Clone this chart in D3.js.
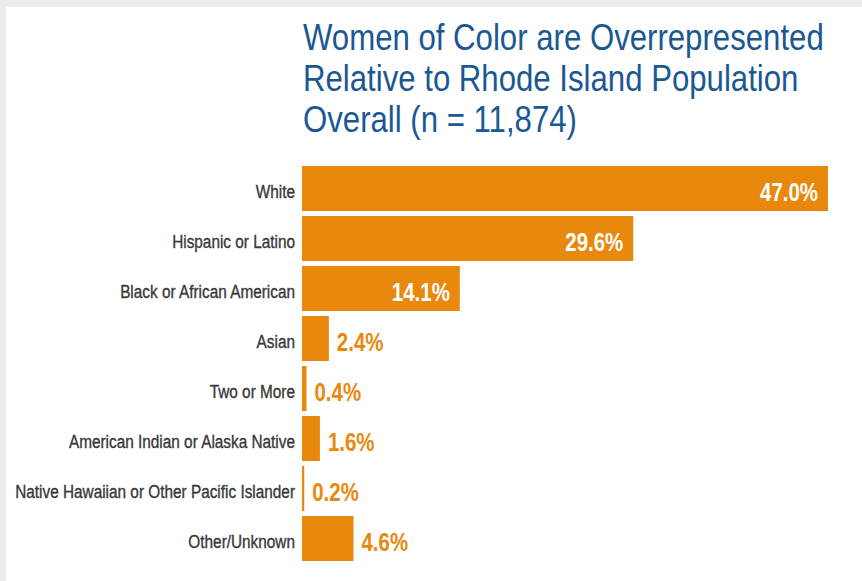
<!DOCTYPE html>
<html>
<head>
<meta charset="utf-8">
<script src="https://cdn.jsdelivr.net/npm/d3@7"></script>
<style>
  html, body { margin: 0; padding: 0; background: #ffffff; }
  svg { display: block; }
</style>
</head>
<body>
<svg id="chart" width="862" height="581"></svg>
<script>
// Race / ethnicity breakdown (percent of women served)
const categories = [
  "White",
  "Hispanic or Latino",
  "Black or African American",
  "Asian",
  "Two or More",
  "American Indian or Alaska Native",
  "Native Hawaiian or Other Pacific Islander",
  "Other/Unknown"
];
const percents = [47.0, 29.6, 14.1, 2.4, 0.4, 1.6, 0.2, 4.6];
const titleLines = [
  "Women of Color are Overrepresented",
  "Relative to Rhode Island Population",
  "Overall (n = 11,874)"
];

const W = 862, H = 581;
const ORANGE = "#e8880d";
const TITLE_BLUE = "#1a5893";
const LABEL_GREY = "#383838";
const NARROW = "'Liberation Sans Narrow', 'Arial Narrow', 'Liberation Sans', Arial, sans-serif";
const SANS = "'Liberation Sans', Arial, Helvetica, sans-serif";

const svg = d3.select("#chart");

// page frame: light grey strip along the top and left edges
svg.append("rect").attr("x", 0).attr("y", 0).attr("width", W).attr("height", H).attr("fill", "#ececec");
svg.append("rect").attr("x", 6).attr("y", 7).attr("width", W - 6).attr("height", H - 7).attr("fill", "#ffffff");

const data = categories.map((c, i) => ({ cat: c, v: percents[i] }));

const x = d3.scaleLinear().domain([0, 47]).range([302, 828]);
const y = d3.scaleBand().domain(categories).range([163.5, 563.5]).paddingInner(0.1).paddingOuter(0.05);

// squeeze a group of texts horizontally so a reference text hits a target width
function fitGroup(sel, refNode, targetWidth) {
  const w = refNode.getComputedTextLength();
  const k = w > 0 ? targetWidth / w : 1;
  sel.each(function () {
    const t = d3.select(this);
    t.attr("transform", `translate(${+t.attr("data-x")},${+t.attr("data-y")}) scale(${k},1)`);
  });
}

// title
const title = svg.append("g").selectAll("text").data(titleLines).join("text")
  .attr("data-x", 303)
  .attr("data-y", (d, i) => 50 + i * 41)
  .attr("x", 0).attr("y", 0)
  .attr("font-family", SANS)
  .attr("font-size", 36)
  .attr("fill", TITLE_BLUE)
  .text(d => d);
fitGroup(title, title.nodes()[0], 521);

// bars
svg.append("g").selectAll("rect").data(data).join("rect")
  .attr("x", x(0))
  .attr("y", d => y(d.cat))
  .attr("width", d => x(d.v) - x(0))
  .attr("height", y.bandwidth())
  .attr("fill", ORANGE);

// category labels
const labels = svg.append("g").selectAll("text").data(data).join("text")
  .attr("data-x", 295)
  .attr("data-y", d => y(d.cat) + y.bandwidth() / 2 + 9)
  .attr("x", 0).attr("y", 0)
  .attr("text-anchor", "end")
  .attr("font-family", NARROW)
  .attr("font-size", 18)
  .attr("font-weight", "normal")
  .attr("fill", LABEL_GREY)
  .attr("stroke", LABEL_GREY)
  .attr("stroke-width", 0.35)
  .text(d => d.cat);
fitGroup(labels, labels.nodes()[6], 280);

// value labels: inside the long bars, just past the end of short ones
const inside = d => d.v >= 10;
const values = svg.append("g").selectAll("text").data(data).join("text")
  .attr("data-x", d => inside(d) ? x(d.v) - 10 : x(d.v) + 8)
  .attr("data-y", d => y(d.cat) + y.bandwidth() / 2 + 12)
  .attr("x", 0).attr("y", 0)
  .attr("text-anchor", d => inside(d) ? "end" : "start")
  .attr("font-family", NARROW)
  .attr("font-size", 26)
  .attr("font-weight", "bold")
  .attr("fill", d => inside(d) ? "#ffffff" : ORANGE)
  .text(d => d.v.toFixed(1) + "%");
fitGroup(values, values.nodes()[0], 58);
</script>
</body>
</html>
